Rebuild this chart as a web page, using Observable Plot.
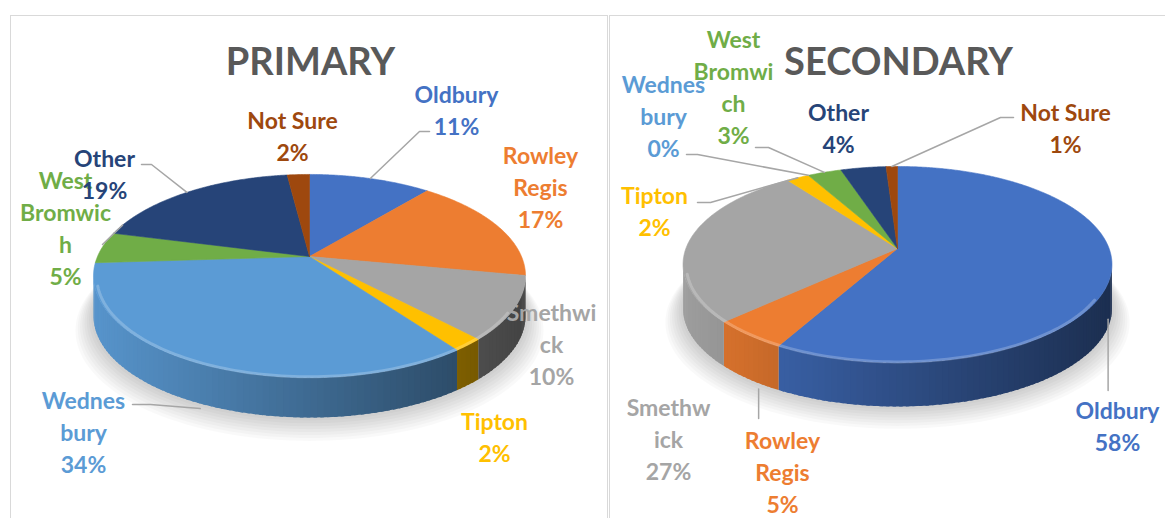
<!DOCTYPE html>
<html><head><meta charset="utf-8">
<script src="https://cdn.jsdelivr.net/npm/d3@7"></script>
<script src="https://cdn.jsdelivr.net/npm/@observablehq/plot@0.6"></script>
<style>
html,body{margin:0;padding:0;background:#fff;}
#wrap{position:relative;width:1165px;height:518px;overflow:hidden;}
.panel{position:absolute;border:1.5px solid #d9d9d9;box-sizing:border-box;}
#chart{position:absolute;left:0;top:0;}
</style></head><body>
<div id="wrap">
<div class="panel" style="left:10px;top:15px;width:598px;height:530px"></div>
<div class="panel" style="left:609px;top:15px;width:580px;height:530px"></div>
<div id="chart"></div>
</div>
<script>
// ---------- data ----------
const categories = ["Oldbury","Rowley Regis","Smethwick","Tipton","Wednesbury","West Bromwich","Other","Not Sure"];
const primaryValues   = [11,17,10,2,34,5,19,2];
const secondaryValues = [58,5,27,2,0,3,4,1];
const primaryLabelLines   = [["Oldbury"],["Rowley","Regis"],["Smethwi","ck"],["Tipton"],["Wednes","bury"],["West","Bromwic","h"],["Other"],["Not Sure"]];
const secondaryLabelLines = [["Oldbury"],["Rowley","Regis"],["Smethw","ick"],["Tipton"],["Wednes","bury"],["West","Bromwi","ch"],["Other"],["Not Sure"]];
const titles = ["PRIMARY","SECONDARY"];
const palette = ["#4472C4","#ED7D31","#A5A5A5","#FFC000","#5B9BD5","#70AD47","#264478","#9E480E"];

// ---------- layout ----------
const pies = [
  {title: titles[0], values: primaryValues, lines: primaryLabelLines,
   cx: 309, cy: 256, A: 212, B: 97.8, k: 0.192, depth: 40, titleY: 62,
   label: [[147,-147.5],[231,-71],[242,86],[185,179.5],[-226,174],[-244,-30],[-205,-83.5],[-17,-122]],
   leader: [
     {att:[-27,22.5], dir:-1, len:10, at:"top"}, null, null, null,
     {att:[49,-26], dir:1, len:18, at:"bottom", extra:5},
     {att:[37,18], dir:0, len:0, at:"top", angle:290},
     {att:[37,-8.5], dir:1, len:10, at:"top"}, null]},
  {title: titles[1], values: secondaryValues, lines: secondaryLabelLines,
   cx: 897, cy: 248, A: 211.6, B: 95.4, k: 0.163, depth: 44, titleY: 62,
   label: [[220,176],[-115,222],[-229,189],[-243,-38.5],[-234,-133.7],[-164,-163],[-59,-121.5],[168,-121.5]],
   leader: [
     {vertical:true, att:[0,-34], at:"bottom", extra:2, dx:-3},
     {vertical:true, att:[0,-52], at:"bottom", extra:10, dx:10},
     null,
     {att:[43,-7.5], dir:1, len:13, at:"top"},
     {att:[23,39.7], dir:1, len:11, at:"top"},
     {att:[22,62], dir:1, len:13, at:"top"},
     null,
     {att:[-52,-9.5], dir:-1, len:13, at:"top"}]}
];

const DEG = Math.PI/180;
function proj(p, theta, r = 1, dy = 0) {
  const u = r*Math.sin(theta), w = -r*Math.cos(theta);
  const s = 1/(1 - p.k*w);
  return [p.cx + p.A*u*s, p.cy + p.B*w*s + dy];
}
function shade(color, f) { return d3.interpolateRgb("#000", color)(f); }

const shadowRows = [], sideRows = [], topRows = [], hlRows = [], leaderRows = [], labelRows = [], titleRows = [];

pies.forEach((p, pi) => {
  const arcs = d3.pie().sort(null).value(d => d)(p.values);
  const tMin = Math.PI/2 + Math.asin(p.k), tMax = 3*Math.PI/2 - Math.asin(p.k);

  // soft shadow
  for (let s = 1; s <= 8; s++) {
    for (let j = 0; j <= 180; j++) {
      const [x, y] = proj(p, j*2*DEG, 1 + 0.01*s, p.depth + 1.4*s);
      shadowRows.push({id: `sh${pi}-${s}`, x, y});
    }
  }

  arcs.forEach((a, i) => {
    const col = palette[i];
    if (a.endAngle - a.startAngle <= 0) return;
    // side walls (front visible part), small overlapping strips for smooth shading
    const s0 = Math.max(a.startAngle, tMin), s1 = Math.min(a.endAngle, tMax);
    if (s1 > s0) {
      const n = Math.max(1, Math.ceil((s1 - s0)/(1.5*DEG)));
      for (let j = 0; j < n; j++) {
        const t0 = s0 + (s1 - s0)*j/n;
        const t1 = Math.min(s1, s0 + (s1 - s0)*(j+1)/n + 0.8*DEG);
        const pa = proj(p, t0), pb = proj(p, t1);
        const X = ((pa[0] + pb[0])/2 - p.cx)/p.A;
        const c = shade(col, 0.68 - 0.27*X);
        const id = `sd${pi}-${i}-${j}`;
        [[pa[0], pa[1]], [pb[0], pb[1]], [pb[0], pb[1] + p.depth], [pa[0], pa[1] + p.depth], [pa[0], pa[1]]]
          .forEach(([x, y]) => sideRows.push({id, x, y, c}));
      }
    }
    // top face
    const id = `tp${pi}-${i}`;
    const n = Math.max(2, Math.ceil((a.endAngle - a.startAngle)/(0.5*DEG)));
    const c0 = proj(p, 0, 0);
    topRows.push({id, x: c0[0], y: c0[1], c: col});
    for (let j = 0; j <= n; j++) {
      const [x, y] = proj(p, a.startAngle + (a.endAngle - a.startAngle)*j/n);
      topRows.push({id, x, y, c: col});
    }
    topRows.push({id, x: c0[0], y: c0[1], c: col});
  });

  // bevel highlight along front rim
  for (let j = 0; j <= 100; j++) {
    const t = tMin + 20*DEG + (tMax - tMin - 25*DEG)*j/100;
    const [x, y] = proj(p, t, 0.985, 1.5);
    hlRows.push({id: `hl${pi}`, x, y});
  }

  // labels & leaders
  arcs.forEach((a, i) => {
    const lx = p.cx + p.label[i][0], ly = p.cy + p.label[i][1];
    labelRows.push({x: lx, y: ly, c: palette[i], text: p.lines[i].join("\n") + "\n" + p.values[i] + "%"});
    const L = p.leader[i];
    if (!L) return;
    const ang = L.angle != null ? L.angle*DEG : (a.startAngle + a.endAngle)/2;
    const end = proj(p, ang, 1, L.at === "bottom" ? p.depth + (L.extra || 0) : 0);
    const id = `ld${pi}-${i}`;
    if (L.vertical) {
      const vx = end[0] + (L.dx || 0);
      leaderRows.push({id, x: vx, y: ly + L.att[1]}, {id, x: vx, y: end[1]});
    } else {
      const ax = lx + L.att[0], ay = ly + L.att[1];
      leaderRows.push({id, x: ax, y: ay});
      if (L.len) leaderRows.push({id, x: ax + L.dir*L.len, y: ay});
      leaderRows.push({id, x: end[0], y: end[1]});
    }
  });

  titleRows.push({x: p.cx + 1, y: p.titleY, text: p.title});
});

const chart = Plot.plot({
  width: 1165, height: 518, margin: 0,
  x: {domain: [0, 1165], range: [0, 1165], axis: null},
  y: {domain: [0, 518], range: [0, 518], axis: null},
  color: {type: "identity"},
  style: {background: "transparent", fontFamily: "Lato, 'Open Sans', sans-serif", overflow: "visible"},
  marks: [
    Plot.line(shadowRows, {x: "x", y: "y", z: "id", fill: "#000", fillOpacity: 0.022, stroke: "none"}),
    Plot.line(sideRows, {x: "x", y: "y", z: "id", fill: "c", stroke: "none"}),
    Plot.line(topRows, {x: "x", y: "y", z: "id", fill: "c", stroke: "c", strokeWidth: 0.6}),
    Plot.line(hlRows, {x: "x", y: "y", z: "id", stroke: "#fff", strokeOpacity: 0.22, strokeWidth: 3}),
    Plot.line(leaderRows, {x: "x", y: "y", z: "id", stroke: "#A6A6A6", strokeWidth: 1.5}),
    Plot.text(labelRows, {x: "x", y: "y", text: "text", fill: "c", fontSize: 23, fontWeight: "bold", lineHeight: 1.4}),
    Plot.text(titleRows, {x: "x", y: "y", text: "text", fill: "#595959", fontSize: 38, fontWeight: "bold"})
  ]
});
document.getElementById("chart").appendChild(chart);
</script>
</body></html>
